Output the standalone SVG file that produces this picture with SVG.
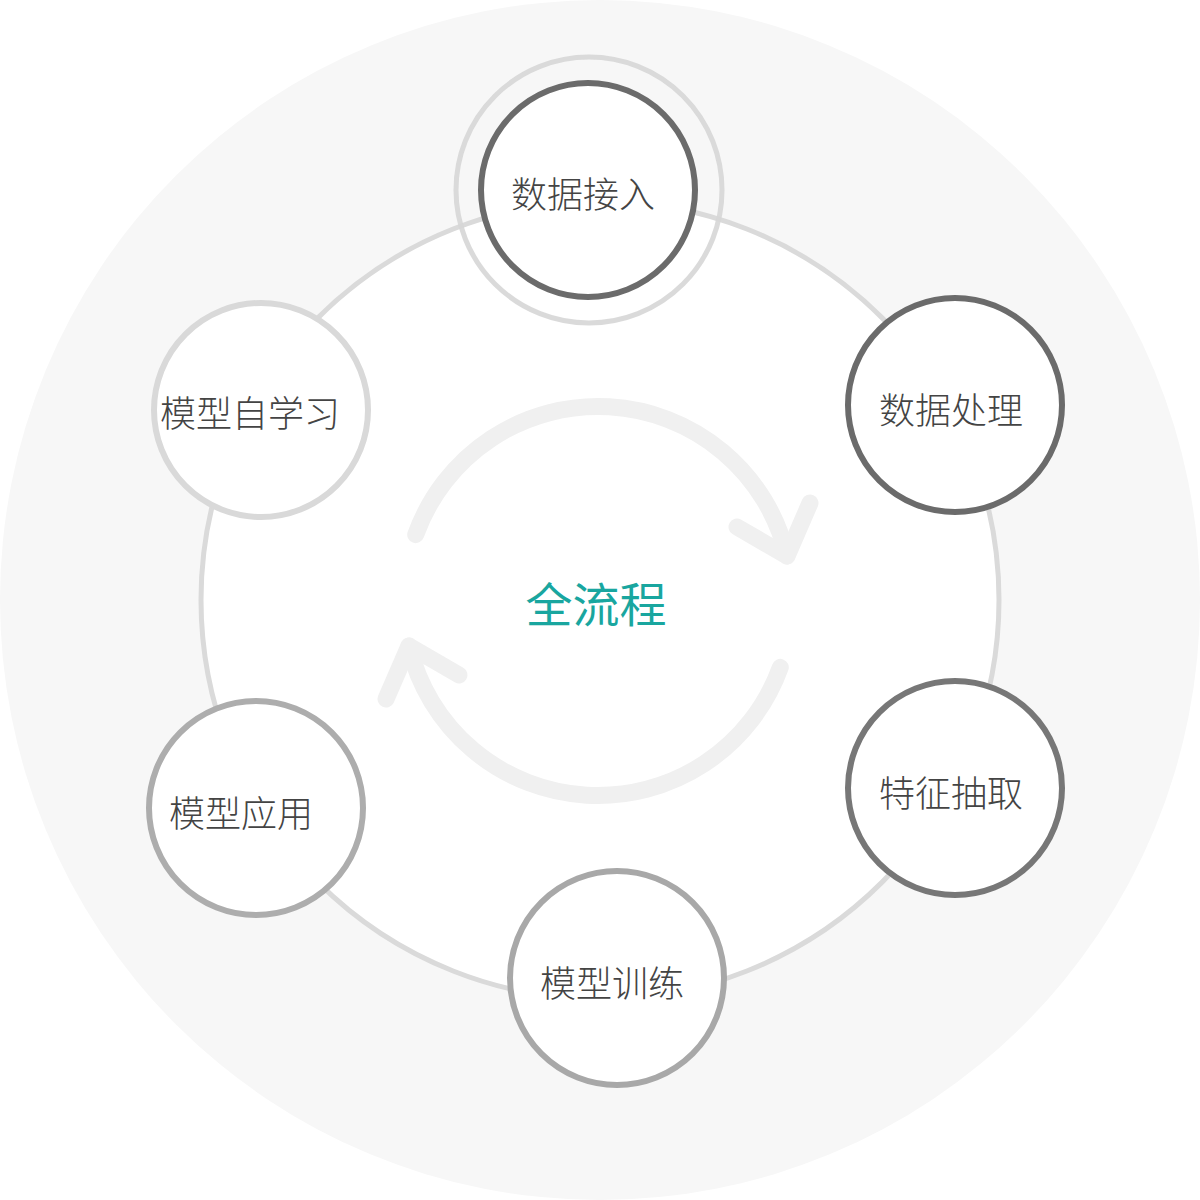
<svg xmlns="http://www.w3.org/2000/svg" width="1200" height="1200" viewBox="0 0 1200 1200">
  <style>
    .node { fill: #ffffff; stroke-width: 6; }
    .label { font-family: "Noto Sans CJK SC", "Noto Sans", sans-serif; font-size: 36px; font-weight: 300; fill: #444444; text-anchor: middle; dominant-baseline: central; }
    .title { font-family: "Noto Sans CJK SC", "Noto Sans", sans-serif; font-size: 47px; font-weight: 400; fill: #19a69f; text-anchor: middle; dominant-baseline: central; }
    .cycle { fill: none; stroke: #f0f0f0; stroke-width: 17; stroke-linecap: round; stroke-linejoin: round; }
  </style>
  <rect width="1200" height="1200" fill="#ffffff"/>
  <circle id="background" cx="600" cy="600" r="600" fill="#f7f7f7"/>
  <circle id="orbit-disc" cx="600" cy="600" r="399" fill="#ffffff"/>
  <g id="connectors">
    <circle cx="600" cy="600" r="399" fill="none" stroke="#dadada" stroke-width="5"/>
    <g id="cycle-arrows">
      <g>
        <path class="cycle" d="M 415.7 534.6 A 194 194 0 0 1 787 556"/>
        <polyline class="cycle" points="737,527 787,556 810,503"/>
      </g>
      <g transform="rotate(180 598 601)">
        <path class="cycle" d="M 415.7 534.6 A 194 194 0 0 1 787 556"/>
        <polyline class="cycle" points="737,527 787,556 810,503"/>
      </g>
    </g>
  </g>
  <g id="center">
    <text class="title" x="596" y="601">全流程</text>
  </g>
  <g id="node-data-ingest">
    <circle cx="589" cy="190" r="133" fill="none" stroke="#d6d6d6" stroke-width="5" opacity="0.9"/>
    <circle class="node" cx="588" cy="190" r="107" stroke="#6b6b6b"/>
    <text class="label" x="583" y="192">数据接入</text>
  </g>
  <g id="node-data-processing">
    <circle class="node" cx="955" cy="405" r="107" stroke="#6b6b6b"/>
    <text class="label" x="951" y="408">数据处理</text>
  </g>
  <g id="node-feature-extraction">
    <circle class="node" cx="955" cy="788" r="107" stroke="#777777"/>
    <text class="label" x="951" y="791">特征抽取</text>
  </g>
  <g id="node-model-training">
    <circle class="node" cx="617" cy="978" r="107" stroke="#a8a8a8"/>
    <text class="label" x="612" y="981">模型训练</text>
  </g>
  <g id="node-model-application">
    <circle class="node" cx="256" cy="808" r="107" stroke="#adadad"/>
    <text class="label" x="241" y="811">模型应用</text>
  </g>
  <g id="node-model-self-learning">
    <circle class="node" cx="261" cy="410" r="107" stroke="#d9d9d9" stroke-width="5"/>
    <text class="label" x="250" y="411">模型自学习</text>
  </g>
</svg>
